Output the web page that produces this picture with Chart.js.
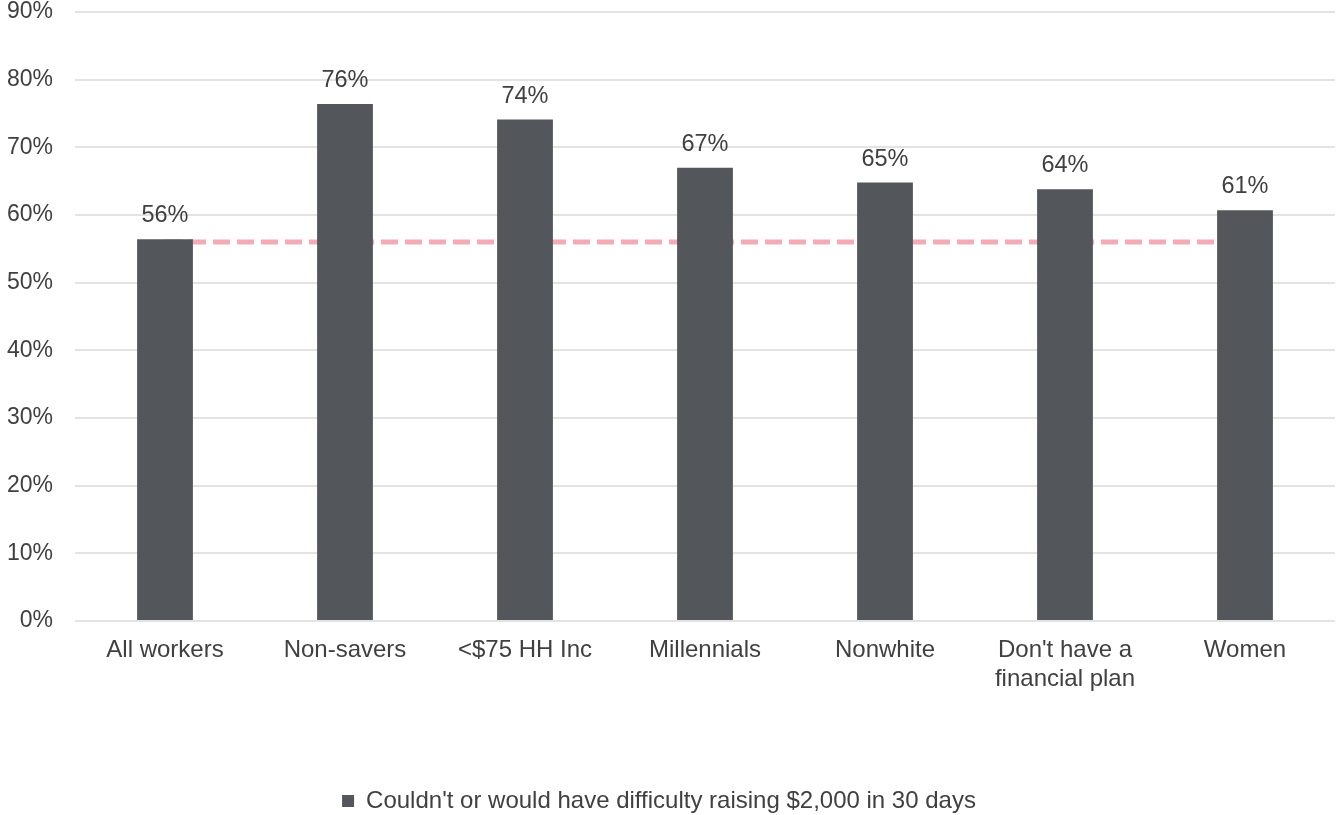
<!DOCTYPE html>
<html>
<head>
<meta charset="utf-8">
<script src="https://cdn.jsdelivr.net/npm/chart.js@4"></script>
<style>
  body { margin: 0; background: #fff; }
  #wrap { width: 1337px; height: 815px; position: relative; }
</style>
</head>
<body>
<div id="wrap"><canvas id="difficultyChart"></canvas></div>
<script>
const categories = ['All workers', 'Non-savers', '<$75 HH Inc', 'Millennials', 'Nonwhite', ["Don't have a", 'financial plan'], 'Women'];
const difficultyValues = [56.4, 76.4, 74.1, 67.0, 64.8, 63.8, 60.7];
const allWorkersLine = [56, 56, 56, 56, 56, 56, 56];
const seriesName = "Couldn't or would have difficulty raising $2,000 in 30 days";

const textColor = '#404040';
Chart.defaults.font.family = '"Liberation Sans", Arial, sans-serif';
Chart.defaults.font.size = 24;
Chart.defaults.color = textColor;

// value labels above each bar
const barLabels = {
    id: 'barLabels',
    afterDatasetsDraw(chart) {
        const ctx = chart.ctx;
        const meta = chart.getDatasetMeta(0);
        ctx.save();
        ctx.font = '23.5px "Liberation Sans", Arial, sans-serif';
        ctx.fillStyle = textColor;
        ctx.textAlign = 'center';
        ctx.textBaseline = 'alphabetic';
        meta.data.forEach((bar, i) => {
            ctx.fillText(Math.round(difficultyValues[i]) + '%', bar.x, bar.y - 17);
        });
        ctx.restore();
    }
};

const ctx = document.getElementById('difficultyChart').getContext('2d');
new Chart(ctx, {
    type: 'bar',
    data: {
        labels: categories,
        datasets: [{
            label: seriesName,
            data: difficultyValues,
            backgroundColor: '#53565A',
            categoryPercentage: 1,
            barPercentage: 0.31,
            order: 1
        }, {
            type: 'line',
            label: 'All workers',
            data: allWorkersLine,
            borderColor: '#F4ABB5',
            borderWidth: 5,
            borderDash: [17, 7],
            pointRadius: 0,
            fill: false,
            order: 2
        }]
    },
    options: {
        responsive: true,
        maintainAspectRatio: false,
        animation: false,
        layout: { padding: { left: -17, right: 2, top: 0, bottom: -8 } },
        plugins: {
            legend: {
                position: 'bottom',
                labels: {
                    padding: 0,
                    boxWidth: 12,
                    boxHeight: 12,
                    filter: item => item.datasetIndex === 0
                }
            },
            tooltip: { enabled: false }
        },
        scales: {
            x: {
                grid: { display: false },
                border: { display: false },
                ticks: { padding: 7, maxRotation: 0 },
                afterFit: scale => { scale.height = 168; }
            },
            y: {
                min: 0,
                max: 90,
                border: { display: false },
                grid: { color: '#E3E3E3', lineWidth: 2, drawTicks: false },
                ticks: { stepSize: 10, padding: 22, font: { size: 23 }, callback: v => v + '%' },
                afterFit: scale => { scale.width = 92; scale.paddingTop = 12; }
            }
        }
    },
    plugins: [barLabels]
});
</script>
</body>
</html>
